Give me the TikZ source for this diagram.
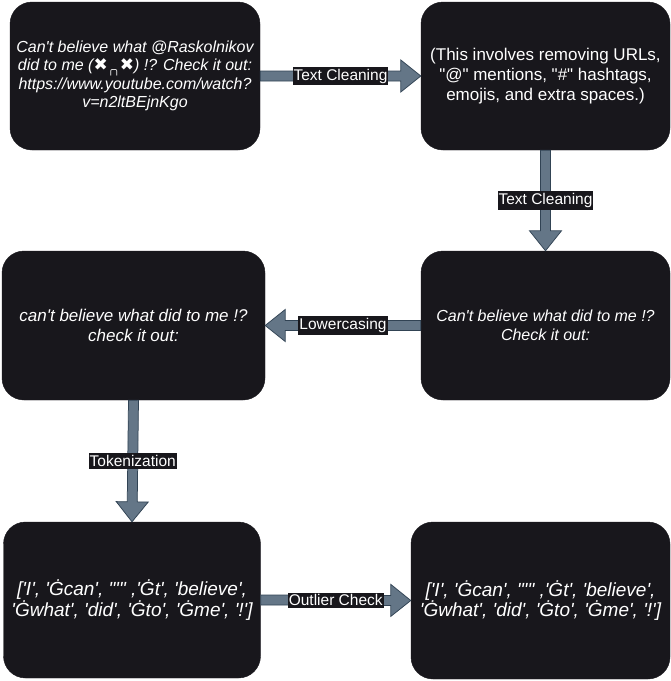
\documentclass[tikz,border=0pt]{standalone}
\usepackage{fontspec}
\newfontfamily\arial{Liberation Sans}
\newfontfamily\djv{DejaVu Sans}
\usetikzlibrary{calc}
\definecolor{boxfill}{HTML}{18171C}
\definecolor{arrowfill}{HTML}{647687}
\definecolor{arrowline}{HTML}{314354}
\tikzset{
  box/.style={draw=boxfill, fill=boxfill, rounded corners=22pt, text=white,
    align=center, inner sep=0pt},
  lbl/.style={fill=boxfill, text=white, font=\arial\fontsize{15.5}{17}\selectfont,
    inner xsep=1pt, inner ysep=2pt},
  flexarrowstyle/.style={fill=arrowfill, draw=arrowline, line width=0.75pt, line join=miter},
  fitA/.style={font=\arial\itshape\fontsize{16}{18.4}\selectfont},
  fitB/.style={font=\arial\fontsize{17}{20}\selectfont},
  fitC/.style={font=\arial\itshape\fontsize{16}{19.3}\selectfont},
  fitD/.style={font=\arial\itshape\fontsize{17}{19.3}\selectfont},
  fitE/.style={font=\arial\itshape\fontsize{19}{20.5}\selectfont}
}
\newcommand\flexarrow[2]{%
  \coordinate (fa-s) at (#1);
  \coordinate (fa-e) at (#2);
  \coordinate (fa-b) at ($(fa-e)!20pt!(fa-s)$);
  \draw[flexarrowstyle] ($(fa-s)!5pt!90:(fa-e)$) -- ($(fa-b)!5pt!-90:(fa-s)$)
    -- ($(fa-b)!16pt!-90:(fa-s)$) -- (fa-e) -- ($(fa-b)!16pt!90:(fa-s)$)
    -- ($(fa-b)!5pt!90:(fa-s)$) -- ($(fa-s)!5pt!-90:(fa-e)$) -- cycle;
}
\begin{document}
\begin{tikzpicture}[x=1pt,y=-1pt]
\fill[white] (0,0) rectangle (671,681);
\useasboundingbox (0,0) rectangle (671,681);

\node[box, fitA, minimum width=250pt, minimum height=148pt] (b1) at (135,76)
  {Can't believe what @Raskolnikov\\
   did to me ({\djv\upshape\fontsize{17}{17}\selectfont ✖}\raisebox{-3pt}{\djv\upshape\fontsize{10}{10}\selectfont ╭╮}{\djv\upshape\fontsize{17}{17}\selectfont ✖}) !? Check it out:\\
   https://www.youtube.com/watch?\\
   v=n2ltBEjnKgo};
\node[box, fitB, minimum width=249pt, minimum height=148pt] (b2) at (545.5,76)
  {(This involves removing URLs,\\
   "@" mentions, "\#" hashtags,\\
   emojis, and extra spaces.)};
\node[box, fitC, minimum width=249pt, minimum height=149pt] (b3) at (545.5,325.5)
  {Can't believe what did to me !?\\ Check it out:};
\node[box, fitD, minimum width=263pt, minimum height=149pt] (b4) at (133.5,325.5)
  {can't believe what did to me !?\\ check it out:};
\node[box, fitE, minimum width=257pt, minimum height=156pt] (b5) at (132,600)
  {['I', 'Ġcan', "'" ,'Ġt', 'believe',\\ 'Ġwhat', 'did', 'Ġto', 'Ġme', '!']};
\node[box, fitE, minimum width=259pt, minimum height=157pt] (b6) at (540.5,600.5)
  {['I', 'Ġcan', "'" ,'Ġt', 'believe',\\ 'Ġwhat', 'did', 'Ġto', 'Ġme', '!']};

\flexarrow{b1.east}{b2.west}
\node[lbl] (l1) at ($(b1.east)!0.5!(b2.west)$) {Text Cleaning};
\flexarrow{b2.south}{b3.north}
\node[lbl] (l2) at ($(b2.south)!0.5!(b3.north)$) {Text Cleaning};
\flexarrow{b3.west}{b4.east}
\node[lbl] (l3) at ($(b3.west)!0.5!(b4.east)$) {Lowercasing};
\flexarrow{b4.south}{b5.north}
\node[lbl] (l4) at ($(b4.south)!0.5!(b5.north)$) {Tokenization};
\flexarrow{b5.east}{b6.west}
\node[lbl] (l5) at ($(b5.east)!0.5!(b6.west)$) {Outlier Check};
\end{tikzpicture}
\end{document}
